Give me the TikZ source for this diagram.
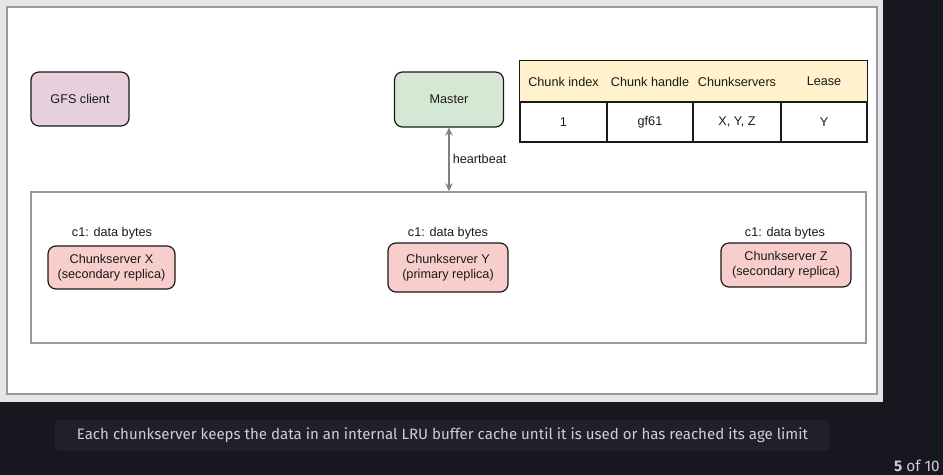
\documentclass[tikz,border=0pt]{standalone}
\usepackage{fontspec}
\setmainfont{Liberation Sans}
\newfontfamily\captionfont{Fira Sans}
\usetikzlibrary{arrows.meta}

\definecolor{pagebg}{HTML}{16171F}
\definecolor{capbg}{HTML}{1F2029}
\definecolor{captext}{HTML}{CDCFD4}
\definecolor{framegray}{HTML}{E6E6E6}
\definecolor{clientfill}{HTML}{E6D0DE}
\definecolor{masterfill}{HTML}{D5E8D4}
\definecolor{serverfill}{HTML}{F8CECC}
\definecolor{headfill}{HTML}{FFF2CC}
\definecolor{inktext}{HTML}{1A1A1A}

\tikzset{
  box/.style={draw=inktext,line width=0.9pt,rounded corners=6pt,align=center,
    inner sep=0pt,text=inktext,font=\fontsize{9.5}{11.5}\selectfont},
  cell/.style={inner sep=0pt,text=inktext,font=\fontsize{9.5}{11.5}\selectfont},
  plain/.style={text=inktext,font=\fontsize{9.5}{11.5}\selectfont},
}

\begin{document}
\begin{tikzpicture}[x=0.75pt,y=-0.75pt,>/.tip={Stealth[length=6pt,width=5.5pt]}]
    % The page
    \fill[pagebg] (0,0) rectangle (943,475);
    \useasboundingbox (0,0) rectangle (943,475);
    \fill[framegray] (0,0) rectangle (883,402);
    \draw[fill=white,draw=black!40,line width=1.1pt] (7,7) rectangle (877,394);

    % Client and master
    \node[box,fill=clientfill,minimum width=73.5pt,minimum height=40.5pt] (client) at (80,99) {GFS client};
    \node[box,fill=masterfill,minimum width=81.75pt,minimum height=41.25pt] (master) at (449,99.5) {Master};

    % The chunk table
    \node[cell,fill=headfill,minimum width=65.25pt,minimum height=30.75pt] (hidx) at (563.5,81.5) {Chunk index};
    \node[cell,fill=headfill,minimum width=64.5pt,minimum height=30.75pt] (hhdl) at (650,81.5) {Chunk handle};
    \node[cell,fill=headfill,minimum width=66pt,minimum height=30.75pt] (hsrv) at (737,81.5) {Chunkservers};
    \node[cell,fill=headfill,minimum width=64.5pt,minimum height=30.75pt] (hlse) at (824,81.5) {Lease};
    \node[cell,draw=inktext,line width=0.9pt,minimum width=65.25pt,minimum height=30pt] (cidx) at (563.5,122) {1};
    \node[cell,draw=inktext,line width=0.9pt,minimum width=64.5pt,minimum height=30pt] (chdl) at (650,122) {gf61};
    \node[cell,draw=inktext,line width=0.9pt,minimum width=66pt,minimum height=30pt] (csrv) at (737,122) {X, Y, Z};
    \node[cell,draw=inktext,line width=0.9pt,minimum width=64.5pt,minimum height=30pt] (clse) at (824,122) {Y};
    \draw[inktext,line width=0.9pt] (hidx.north west) rectangle (clse.south east);

    % The chunkservers
    \node[draw=black!40,line width=1.1pt,minimum width=626.25pt,minimum height=113.25pt] (cluster) at (448.5,267.5) {};
    \node[box,fill=serverfill,minimum width=95.25pt,minimum height=32.25pt] (csx) at (111.5,267.5) {Chunkserver X\\(secondary replica)};
    \node[box,fill=serverfill,minimum width=90pt,minimum height=36.75pt] (csy) at (448,267.5) {Chunkserver Y\\(primary replica)};
    \node[box,fill=serverfill,minimum width=97.5pt,minimum height=33pt] (csz) at (786,265) {Chunkserver Z\\(secondary replica)};
    \node[plain] (datax) at (112,233) {c1: data bytes};
    \node[plain] (datay) at (448,233) {c1: data bytes};
    \node[plain] (dataz) at (785,233) {c1: data bytes};

    % Heartbeat
    \draw[<->,black!50,line width=1.1pt] (master.south) -- (master.south |- cluster.north)
      node[midway,right,plain,xshift=-1pt] (hb) {heartbeat};

    % Caption and counter
    \node[fill=capbg,rounded corners=3pt,minimum width=581.25pt,minimum height=23.25pt] (capbox) at (442.5,435.5) {};
    \node[text=captext,font=\captionfont\fontsize{11.3}{13}\selectfont] (caption) at (capbox.center)
      {Each chunkserver keeps the data in an internal LRU buffer cache until it is used or has reached its age limit};
    \node[anchor=east,text=captext,inner sep=0pt,font=\captionfont\fontsize{11.5}{13}\selectfont] (count) at (940,466)
      {\textbf{5} of 10};
\end{tikzpicture}
\end{document}
